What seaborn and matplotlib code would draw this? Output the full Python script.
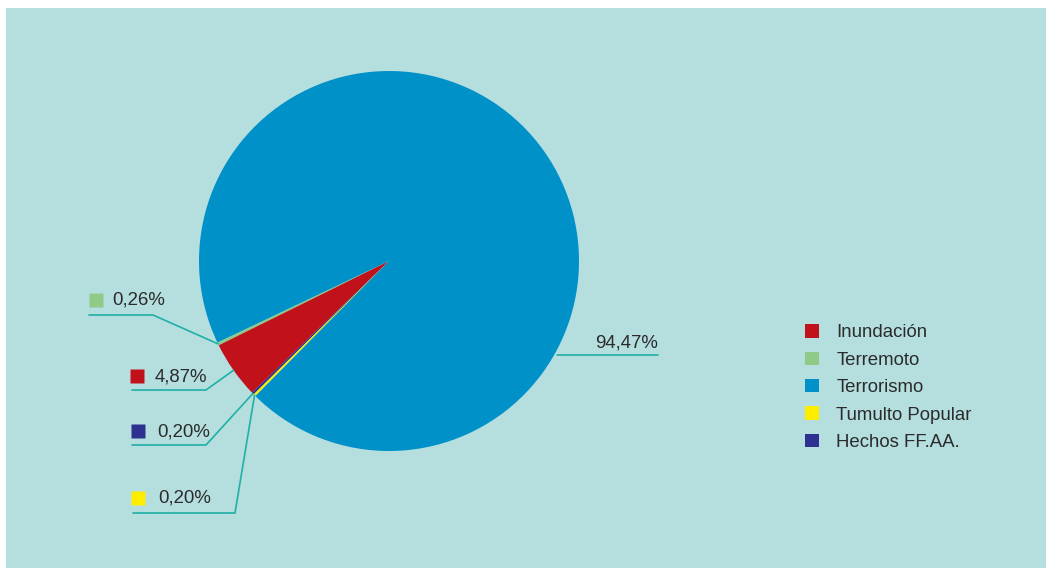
import seaborn as sns
import matplotlib.pyplot as plt
from matplotlib.patches import Patch, Rectangle
import numpy as np

# Siniestros por tipo de evento (%)
categorias = ['Inundación', 'Terremoto', 'Terrorismo', 'Tumulto Popular', 'Hechos FF.AA.']
porcentajes = [4.87, 0.26, 94.47, 0.20, 0.20]
colores = ['#c1121c', '#8fcb87', '#0091c9', '#ffed00', '#2e3192']

# order in which the slices go round the pie (counter-clockwise)
orden_pie = ['Terremoto', 'Inundación', 'Hechos FF.AA.', 'Tumulto Popular', 'Terrorismo']

sns.set_style('white')
plt.rcParams['font.family'] = ['Liberation Sans', 'DejaVu Sans']

W, H = 1046, 568
fig = plt.figure(figsize=(W / 100, H / 100), dpi=100, facecolor='white')
ax = fig.add_axes([0, 0, 1, 1])

bg = '#b5dfdf'
ax.add_patch(Rectangle((6, 0), W - 6, H - 8, facecolor=bg, edgecolor='none', zorder=0))

cx, cy, r = 389, H - 261, 190
col = dict(zip(categorias, colores))
val = dict(zip(categorias, porcentajes))

wedges, _ = ax.pie([val[c] for c in orden_pie], colors=[col[c] for c in orden_pie],
                   startangle=205.4, counterclock=True, center=(cx, cy), radius=r,
                   wedgeprops=dict(linewidth=0), frame=True)
ax.set_xlim(0, W)
ax.set_ylim(0, H)
ax.set_aspect('equal')
ax.axis('off')

line_c = '#1fb0a6'
txt_c = '#2b2b2b'
fs = 13.4

def fmt(v):
    return f'{v:.2f}'.replace('.', ',') + '%'

# label layout (pixel positions, y from top): square, text x, text y, elbow line
etiquetas = {
    'Terremoto':       dict(sq=(96, 300), tx=112, ty=300, ln=[(89, 315), (153, 315)]),
    'Inundación':      dict(sq=(137, 376), tx=155, ty=377, ln=[(132, 390), (206, 390)]),
    'Hechos FF.AA.':   dict(sq=(138, 431), tx=157, ty=432, ln=[(132, 445), (206, 445)]),
    'Tumulto Popular': dict(sq=(138, 498), tx=158, ty=498, ln=[(133, 513), (235, 513)]),
}

for w, c in zip(wedges, orden_pie):
    if c not in etiquetas:
        continue
    e = etiquetas[c]
    ang = np.deg2rad((w.theta1 + w.theta2) / 2)
    ax_, ay_ = cx + r * np.cos(ang), cy + r * np.sin(ang)
    xs = [p[0] for p in e['ln']] + [ax_]
    ys = [H - p[1] for p in e['ln']] + [ay_]
    ax.plot(xs, ys, color=line_c, lw=1.2, zorder=3)
    ax.plot(e['sq'][0], H - e['sq'][1], marker='s', ms=9.5, color=col[c], mec='none', zorder=3)
    ax.text(e['tx'], H - e['ty'], fmt(val[c]), fontsize=fs, color=txt_c, va='center', ha='left')

# Terrorismo label on the right
ly = H - 355
lx = cx + np.sqrt(r ** 2 - (ly - cy) ** 2)
ax.plot([lx + 3, 658], [ly, ly], color=line_c, lw=1.2, zorder=3)
ax.text(658, H - 343, fmt(val['Terrorismo']), fontsize=fs, color=txt_c, va='center', ha='right')

handles = [Patch(facecolor=col[c], edgecolor='none') for c in categorias]
leg = ax.legend(handles, categorias, loc='upper left', bbox_to_anchor=(796 / W, 1 - 315 / H),
                frameon=False, fontsize=fs, handlelength=0.72, handleheight=0.72,
                handletextpad=0.95, labelspacing=0.55, borderpad=0)
for t in leg.get_texts():
    t.set_color(txt_c)

fig.savefig('out.png', dpi=100, facecolor='white')
